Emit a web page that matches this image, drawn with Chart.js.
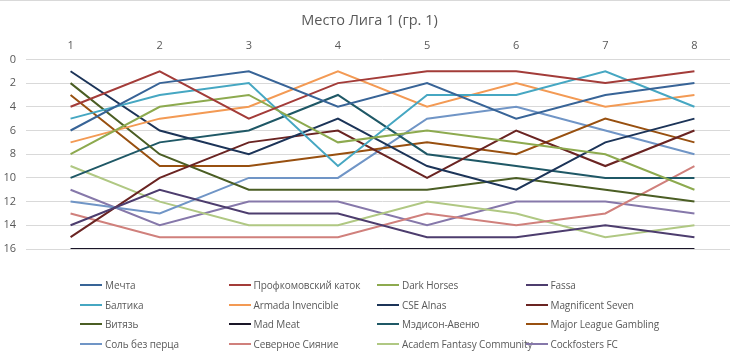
<!DOCTYPE html>
<html>
<head>
<meta charset="utf-8">
<script src="https://cdn.jsdelivr.net/npm/chart.js@4"></script>
<style>
    html, body { margin: 0; padding: 0; background: #fff; overflow: hidden; }
    #wrap { position: relative; width: 730px; height: 353px; overflow: hidden; border-top: 1px solid #d9d9d9; box-sizing: border-box; }
    #chart { position: absolute; left: 0; top: -1px; }
    #legend-container { position: absolute; left: 0; top: 0; width: 730px; height: 353px; pointer-events: none; }
    .lg-item { position: absolute; display: flex; align-items: center; height: 14px; font-family: "Open Sans", "Noto Sans", sans-serif; font-size: 10px; letter-spacing: -0.1px; color: #595959; white-space: nowrap; }
    .lg-box { display: inline-block; width: 22px; height: 2px; margin-right: 3px; }
</style>
</head>
<body>
<div id="wrap">
    <canvas id="chart" width="740" height="354"></canvas>
    <div id="legend-container"></div>
</div>
<script>
const rounds = ['1', '2', '3', '4', '5', '6', '7', '8'];
const yTicks = [0, 2, 4, 6, 8, 10, 12, 14, 16];

const teams = [
    'Мечта', 'Профкомовский каток', 'Dark Horses', 'Fassa',
    'Балтика', 'Armada Invencible', 'CSE Alnas', 'Magnificent Seven',
    'Витязь', 'Mad Meat', 'Мэдисон-Авеню', 'Major League Gambling',
    'Соль без перца', 'Северное Сияние', 'Academ Fantasy Community', 'Cockfosters FC'
];

const mechta      = [6, 2, 1, 4, 2, 5, 3, 2];
const profkom     = [4, 1, 5, 2, 1, 1, 2, 1];
const darkHorses  = [8, 4, 3, 7, 6, 7, 8, 11];
const fassa       = [14, 11, 13, 13, 15, 15, 14, 15];
const baltika     = [5, 3, 2, 9, 3, 3, 1, 4];
const armada      = [7, 5, 4, 1, 4, 2, 4, 3];
const cseAlnas    = [1, 6, 8, 5, 9, 11, 7, 5];
const magnificent = [15, 10, 7, 6, 10, 6, 9, 6];
const vityaz      = [2, 8, 11, 11, 11, 10, 11, 12];
const madMeat     = [16, 16, 16, 16, 16, 16, 16, 16];
const madison     = [10, 7, 6, 3, 8, 9, 10, 10];
const mlg         = [3, 9, 9, 8, 7, 8, 5, 7];
const sol         = [12, 13, 10, 10, 5, 4, 6, 8];
const severnoe    = [13, 15, 15, 15, 13, 14, 13, 9];
const academ      = [9, 12, 14, 14, 12, 13, 15, 14];
const cockfosters = [11, 14, 12, 12, 14, 12, 12, 13];

const series = [mechta, profkom, darkHorses, fassa, baltika, armada, cseAlnas, magnificent,
    vityaz, madMeat, madison, mlg, sol, severnoe, academ, cockfosters];

const colors = [
    '#386497', '#a33c39', '#8daa4f', '#4d3d6e',
    '#46a7c2', '#f39a54', '#1c3458', '#6a2422',
    '#4b5e24', '#1a1628', '#1f5866', '#985010',
    '#7095c6', '#d0807c', '#b0c883', '#8678aa'
];

const ctx = document.getElementById('chart');

// legend drawn as html in 4 columns like the excel one
const GridLegendPlugin = {
    id: 'gridLegend',
    afterUpdate(chart, args, options) {
        const box = document.getElementById(options.containerID);
        box.innerHTML = '';
        chart.data.datasets.forEach((ds, i) => {
            const item = document.createElement('div');
            item.className = 'lg-item';
            item.style.left = (options.left + (i % 4) * options.colWidth) + 'px';
            item.style.top = (options.top + Math.floor(i / 4) * options.rowHeight - 7) + 'px';

            const sw = document.createElement('span');
            sw.className = 'lg-box';
            sw.style.background = ds.borderColor;

            const txt = document.createElement('span');
            txt.appendChild(document.createTextNode(ds.label));

            item.appendChild(sw);
            item.appendChild(txt);
            box.appendChild(item);
        });
    }
};

new Chart(ctx, {
    type: 'line',
    data: {
        labels: rounds,
        datasets: teams.map((name, i) => ({
            label: name,
            data: series[i],
            borderColor: colors[i],
            backgroundColor: colors[i],
            borderWidth: 2,
            pointRadius: 0,
            tension: 0,
            fill: false
        }))
    },
    plugins: [GridLegendPlugin],
    options: {
        responsive: false,
        animation: false,
        layout: { padding: { left: 0, right: 1, top: 0, bottom: 105 } },
        plugins: {
            legend: { display: false },
            tooltip: { enabled: false },
            title: {
                display: true,
                text: 'Место Лига 1 (гр. 1)',
                color: '#595959',
                font: { family: '"Open Sans", "Noto Sans", sans-serif', size: 14.5, weight: 'normal' },
                padding: { top: 12, bottom: 0 }
            },
            gridLegend: {
                containerID: 'legend-container',
                left: 80, top: 284, colWidth: 148.5, rowHeight: 19.6
            }
        },
        scales: {
            x: {
                type: 'category',
                position: 'top',
                offset: true,
                grid: { display: false, drawTicks: false },
                border: { display: false },
                ticks: {
                    color: '#595959',
                    padding: 7,
                    font: { family: '"Open Sans", "Noto Sans", sans-serif', size: 11 }
                },
                afterFit(scale) { scale.height = 30; }
            },
            y: {
                reverse: true,
                min: yTicks[0],
                max: yTicks[yTicks.length - 1],
                grid: { color: '#d9d9d9', lineWidth: 1, drawTicks: false },
                border: { display: false },
                afterBuildTicks(scale) { scale.ticks = yTicks.map(v => ({ value: v })); },
                ticks: {
                    color: '#595959',
                    padding: 10,
                    font: { family: '"Open Sans", "Noto Sans", sans-serif', size: 11 }
                },
                afterFit(scale) { scale.width = 26; }
            }
        }
    }
});
</script>
</body>
</html>
